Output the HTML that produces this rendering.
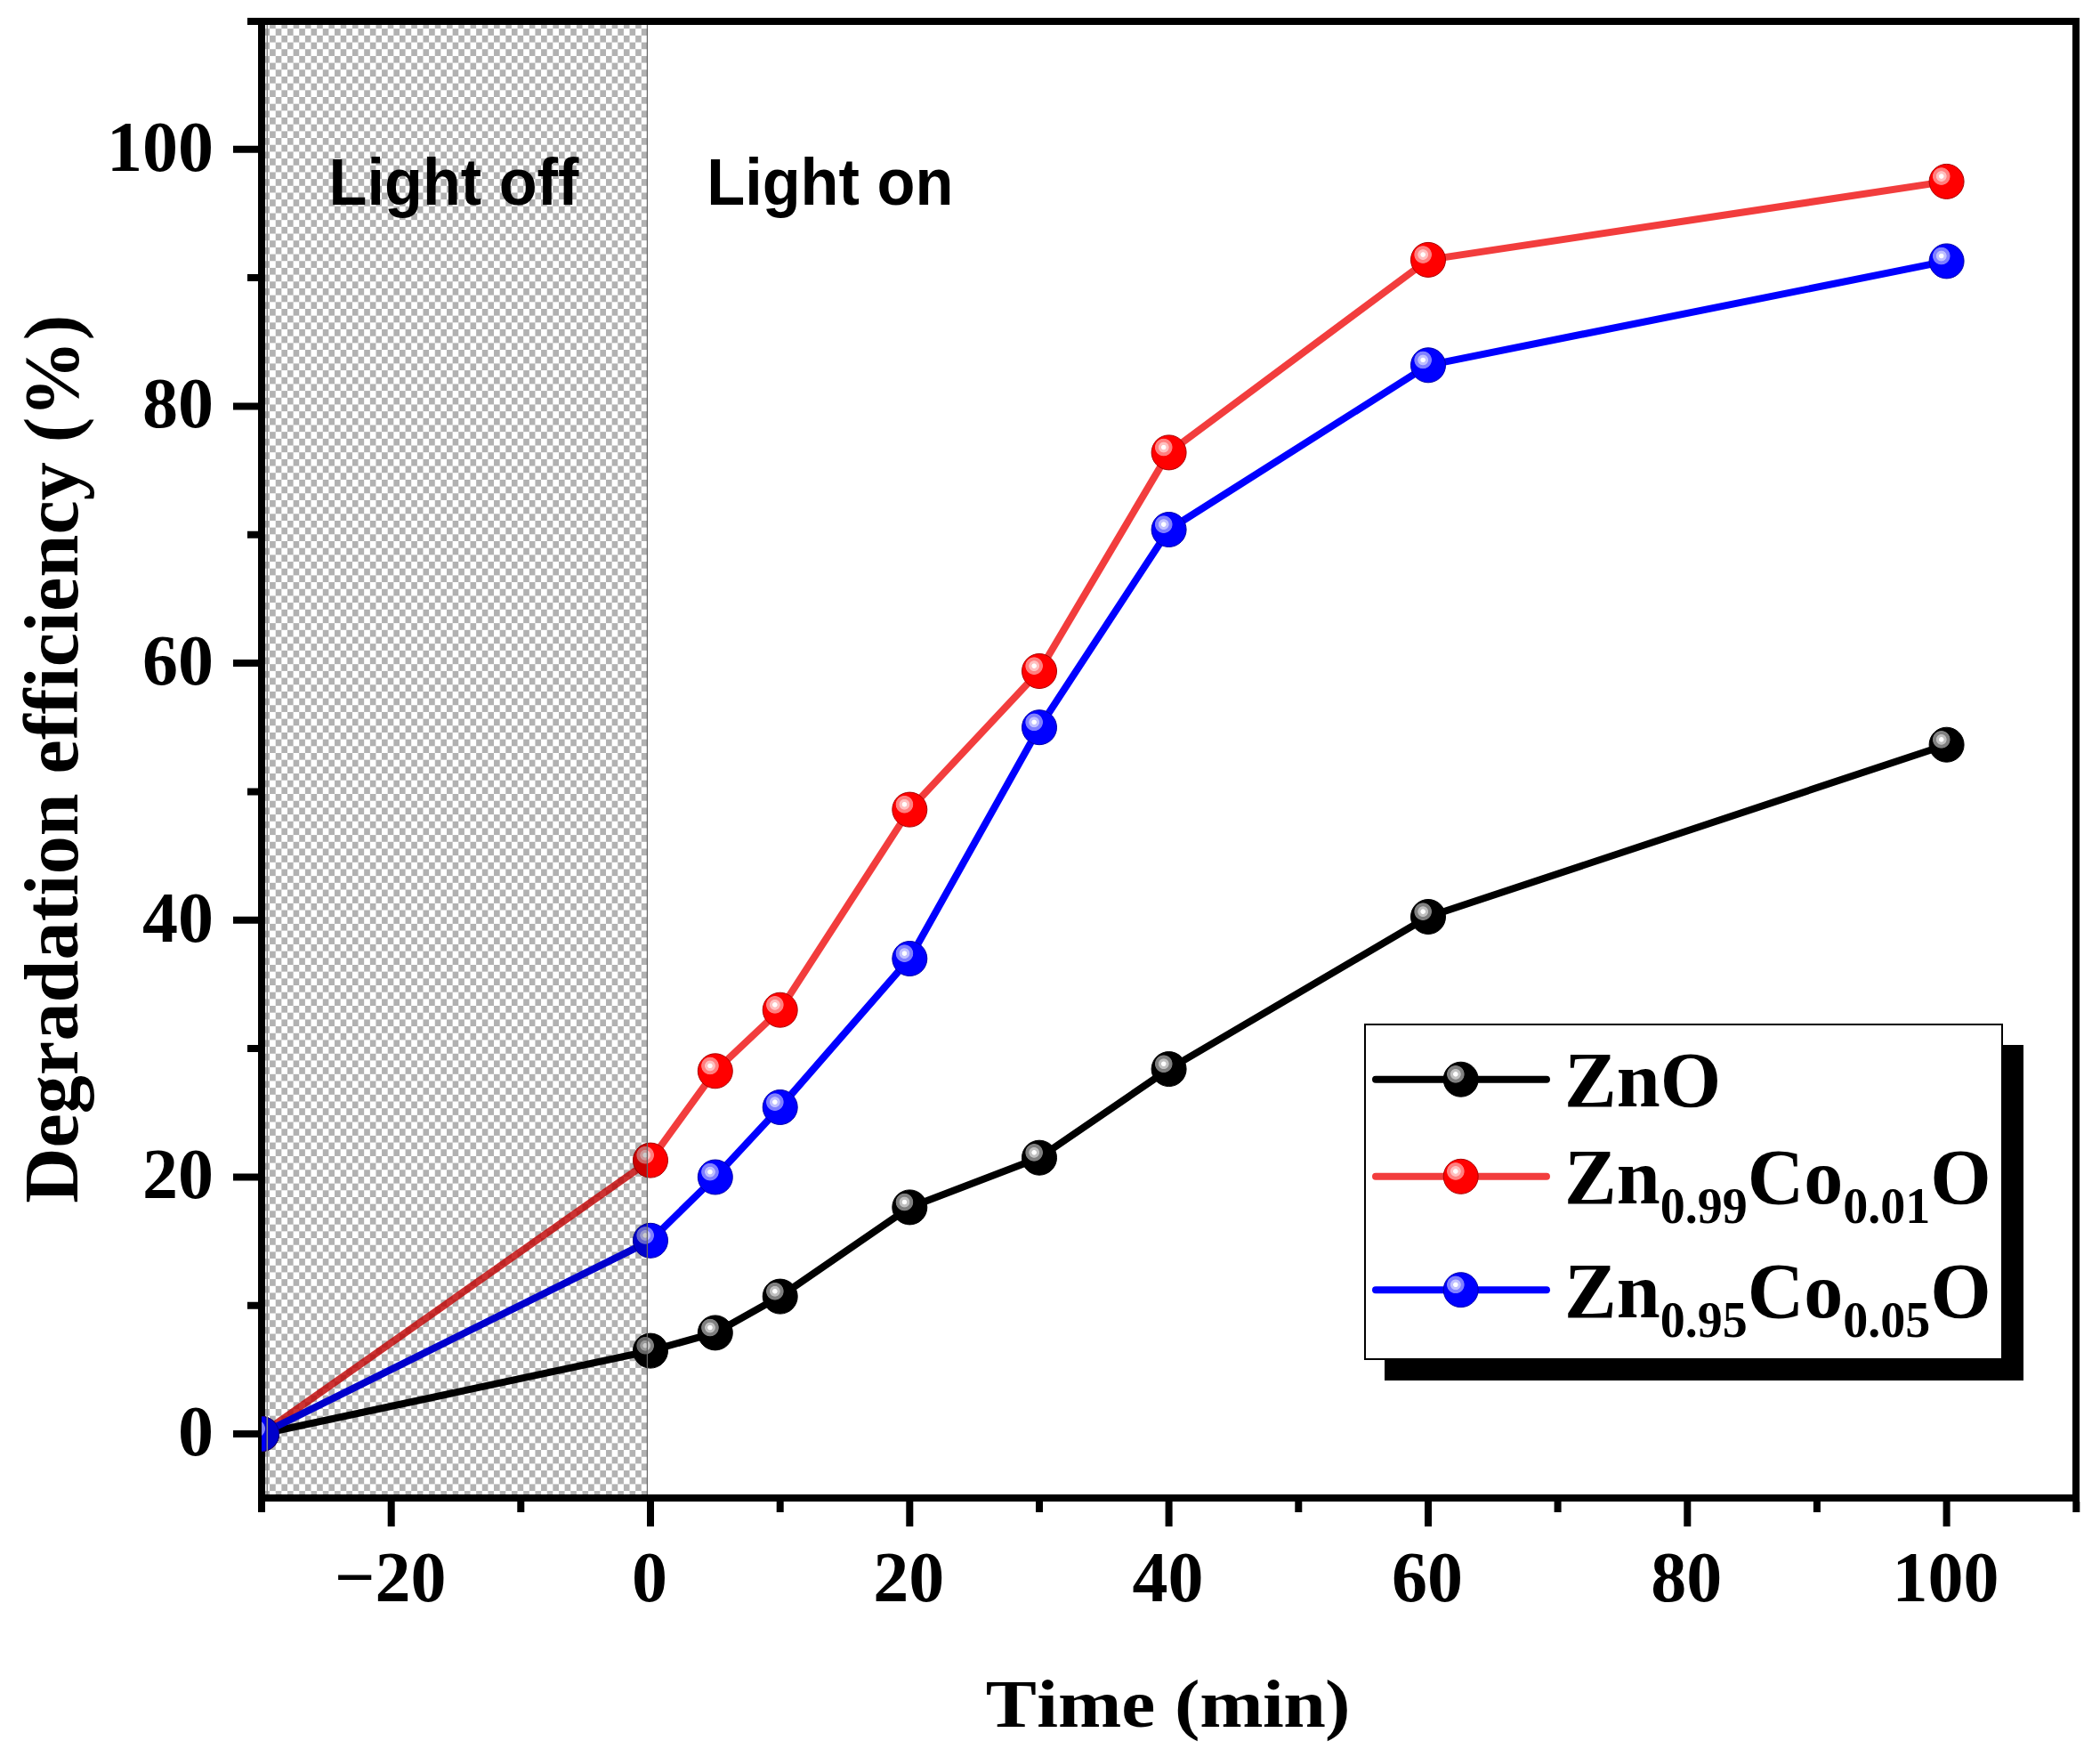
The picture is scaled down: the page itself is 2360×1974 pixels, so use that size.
<!DOCTYPE html>
<html><head><meta charset="utf-8"><title>Degradation efficiency</title>
<style>html,body{margin:0;padding:0;background:#fff;}body{width:2360px;height:1974px;overflow:hidden;}svg{display:block;}</style>
</head><body>
<svg width="2360" height="1974" viewBox="0 0 2360 1974">
<defs>
<pattern id="chk" patternUnits="userSpaceOnUse" x="303.1" y="39.9" width="13.26" height="15.354"><rect x="0" y="0" width="13.26" height="15.354" fill="#fff"/><rect x="0" y="0" width="6.63" height="7.677" fill="#b2b2b2"/><rect x="6.63" y="7.677" width="6.63" height="7.677" fill="#b2b2b2"/></pattern>
<clipPath id="plot"><rect x="294" y="24" width="2039" height="1659"/></clipPath>
<radialGradient id="gk" cx="0.35" cy="0.35" r="0.5" fx="0.35" fy="0.35"><stop offset="0" stop-color="#fff"/><stop offset="0.12" stop-color="#fff"/><stop offset="0.16" stop-color="#c0c0c0"/><stop offset="0.28" stop-color="#c0c0c0"/><stop offset="0.32" stop-color="#808080"/><stop offset="0.48" stop-color="#808080"/><stop offset="0.52" stop-color="#000"/><stop offset="1" stop-color="#000"/></radialGradient>
<radialGradient id="gr" cx="0.35" cy="0.35" r="0.5" fx="0.35" fy="0.35"><stop offset="0" stop-color="#fff"/><stop offset="0.12" stop-color="#fff"/><stop offset="0.16" stop-color="#ffc0c0"/><stop offset="0.28" stop-color="#ffc0c0"/><stop offset="0.32" stop-color="#ff8080"/><stop offset="0.48" stop-color="#ff8080"/><stop offset="0.52" stop-color="#ff0000"/><stop offset="1" stop-color="#ff0000"/></radialGradient>
<radialGradient id="gb" cx="0.35" cy="0.35" r="0.5" fx="0.35" fy="0.35"><stop offset="0" stop-color="#fff"/><stop offset="0.12" stop-color="#fff"/><stop offset="0.16" stop-color="#c0c0ff"/><stop offset="0.28" stop-color="#c0c0ff"/><stop offset="0.32" stop-color="#8080ff"/><stop offset="0.48" stop-color="#8080ff"/><stop offset="0.52" stop-color="#0000ff"/><stop offset="1" stop-color="#0000ff"/></radialGradient>
</defs>
<rect x="0" y="0" width="2360" height="1974" fill="#fff"/>
<rect x="298" y="28" width="429.5" height="1651" fill="url(#chk)"/>
<rect x="294" y="24" width="2039" height="1659" fill="none" stroke="#000" stroke-width="8"/>
<path d="M439.7,1687V1715 M731.0,1687V1715 M1022.3,1687V1715 M1313.6,1687V1715 M1605.0,1687V1715 M1896.3,1687V1715 M2187.6,1687V1715 M294.0,1687V1699 M585.3,1687V1699 M876.7,1687V1699 M1168.0,1687V1699 M1459.3,1687V1699 M1750.6,1687V1699 M2041.9,1687V1699 M2333.3,1687V1699 M262,1611.0H290 M262,1322.4H290 M262,1033.7H290 M262,745.1H290 M262,456.4H290 M262,167.8H290 M278,1466.7H290 M278,1178.0H290 M278,889.4H290 M278,600.8H290 M278,312.1H290 M278,24.0H290" stroke="#000" stroke-width="8" fill="none"/>
<g id="data" clip-path="url(#plot)">
<polyline points="294.0,1611.0 731.0,1517.6 803.8,1497.4 876.7,1456.6 1022.3,1356.4 1168.0,1300.7 1313.6,1201.1 1605.0,1030.0 2187.6,836.7" fill="none" stroke="#000" stroke-opacity="1" stroke-width="8" stroke-linejoin="round" stroke-linecap="round"/>
<circle cx="294.0" cy="1611.0" r="19.5" fill="url(#gk)" stroke="#000" stroke-width="1"/>
<circle cx="731.0" cy="1517.6" r="19.5" fill="url(#gk)" stroke="#000" stroke-width="1"/>
<circle cx="803.8" cy="1497.4" r="19.5" fill="url(#gk)" stroke="#000" stroke-width="1"/>
<circle cx="876.7" cy="1456.6" r="19.5" fill="url(#gk)" stroke="#000" stroke-width="1"/>
<circle cx="1022.3" cy="1356.4" r="19.5" fill="url(#gk)" stroke="#000" stroke-width="1"/>
<circle cx="1168.0" cy="1300.7" r="19.5" fill="url(#gk)" stroke="#000" stroke-width="1"/>
<circle cx="1313.6" cy="1201.1" r="19.5" fill="url(#gk)" stroke="#000" stroke-width="1"/>
<circle cx="1605.0" cy="1030.0" r="19.5" fill="url(#gk)" stroke="#000" stroke-width="1"/>
<circle cx="2187.6" cy="836.7" r="19.5" fill="url(#gk)" stroke="#000" stroke-width="1"/>
<polyline points="294.0,1611.0 731.0,1303.6 803.8,1203.3 876.7,1134.7 1022.3,909.6 1168.0,754.0 1313.6,508.4 1605.0,291.9 2187.6,203.9" fill="none" stroke="#ee0000" stroke-opacity="0.76" stroke-width="8" stroke-linejoin="round" stroke-linecap="round"/>
<circle cx="294.0" cy="1611.0" r="19.5" fill="url(#gr)" stroke="#a00" stroke-width="1"/>
<circle cx="731.0" cy="1303.6" r="19.5" fill="url(#gr)" stroke="#a00" stroke-width="1"/>
<circle cx="803.8" cy="1203.3" r="19.5" fill="url(#gr)" stroke="#a00" stroke-width="1"/>
<circle cx="876.7" cy="1134.7" r="19.5" fill="url(#gr)" stroke="#a00" stroke-width="1"/>
<circle cx="1022.3" cy="909.6" r="19.5" fill="url(#gr)" stroke="#a00" stroke-width="1"/>
<circle cx="1168.0" cy="754.0" r="19.5" fill="url(#gr)" stroke="#a00" stroke-width="1"/>
<circle cx="1313.6" cy="508.4" r="19.5" fill="url(#gr)" stroke="#a00" stroke-width="1"/>
<circle cx="1605.0" cy="291.9" r="19.5" fill="url(#gr)" stroke="#a00" stroke-width="1"/>
<circle cx="2187.6" cy="203.9" r="19.5" fill="url(#gr)" stroke="#a00" stroke-width="1"/>
<polyline points="294.0,1611.0 731.0,1393.8 803.8,1322.5 876.7,1244.0 1022.3,1077.0 1168.0,817.2 1313.6,595.0 1605.0,410.3 2187.6,293.4" fill="none" stroke="#0000ff" stroke-opacity="1" stroke-width="8" stroke-linejoin="round" stroke-linecap="round"/>
<circle cx="294.0" cy="1611.0" r="19.5" fill="url(#gb)" stroke="#00a" stroke-width="1"/>
<circle cx="731.0" cy="1393.8" r="19.5" fill="url(#gb)" stroke="#00a" stroke-width="1"/>
<circle cx="803.8" cy="1322.5" r="19.5" fill="url(#gb)" stroke="#00a" stroke-width="1"/>
<circle cx="876.7" cy="1244.0" r="19.5" fill="url(#gb)" stroke="#00a" stroke-width="1"/>
<circle cx="1022.3" cy="1077.0" r="19.5" fill="url(#gb)" stroke="#00a" stroke-width="1"/>
<circle cx="1168.0" cy="817.2" r="19.5" fill="url(#gb)" stroke="#00a" stroke-width="1"/>
<circle cx="1313.6" cy="595.0" r="19.5" fill="url(#gb)" stroke="#00a" stroke-width="1"/>
<circle cx="1605.0" cy="410.3" r="19.5" fill="url(#gb)" stroke="#00a" stroke-width="1"/>
<circle cx="2187.6" cy="293.4" r="19.5" fill="url(#gb)" stroke="#00a" stroke-width="1"/>
</g>
<filter id="wht" x="0" y="0" width="2360" height="1974" filterUnits="userSpaceOnUse"><feColorMatrix type="matrix" values="0 0 0 0 1 0 0 0 0 1 0 0 0 0 1 0 0 0 1 0"/></filter>
<mask id="dm" maskUnits="userSpaceOnUse" x="0" y="0" width="2360" height="1974"><use href="#data" filter="url(#wht)"/></mask>
<rect x="298" y="28" width="429.5" height="1651" fill="#000" fill-opacity="0.2" mask="url(#dm)"/>
<line x1="300.3" y1="28" x2="300.3" y2="1679" stroke="#888" stroke-width="1.5"/>
<line x1="727.4" y1="28" x2="727.4" y2="1679" stroke="#666" stroke-width="1.2"/>
<text x="240" y="1635.0" font-family="Liberation Serif, Times New Roman, serif" font-weight="bold" font-size="80" text-anchor="end">0</text>
<text x="240" y="1346.4" font-family="Liberation Serif, Times New Roman, serif" font-weight="bold" font-size="80" text-anchor="end">20</text>
<text x="240" y="1057.7" font-family="Liberation Serif, Times New Roman, serif" font-weight="bold" font-size="80" text-anchor="end">40</text>
<text x="240" y="769.1" font-family="Liberation Serif, Times New Roman, serif" font-weight="bold" font-size="80" text-anchor="end">60</text>
<text x="240" y="480.4" font-family="Liberation Serif, Times New Roman, serif" font-weight="bold" font-size="80" text-anchor="end">80</text>
<text x="240" y="191.8" font-family="Liberation Serif, Times New Roman, serif" font-weight="bold" font-size="80" text-anchor="end">100</text>
<text x="438.7" y="1799" font-family="Liberation Serif, Times New Roman, serif" font-weight="bold" font-size="80" text-anchor="middle">−20</text>
<text x="730.0" y="1799" font-family="Liberation Serif, Times New Roman, serif" font-weight="bold" font-size="80" text-anchor="middle">0</text>
<text x="1021.3" y="1799" font-family="Liberation Serif, Times New Roman, serif" font-weight="bold" font-size="80" text-anchor="middle">20</text>
<text x="1312.6" y="1799" font-family="Liberation Serif, Times New Roman, serif" font-weight="bold" font-size="80" text-anchor="middle">40</text>
<text x="1604.0" y="1799" font-family="Liberation Serif, Times New Roman, serif" font-weight="bold" font-size="80" text-anchor="middle">60</text>
<text x="1895.3" y="1799" font-family="Liberation Serif, Times New Roman, serif" font-weight="bold" font-size="80" text-anchor="middle">80</text>
<text x="2186.6" y="1799" font-family="Liberation Serif, Times New Roman, serif" font-weight="bold" font-size="80" text-anchor="middle">100</text>
<text transform="translate(87,1351.8) rotate(-90)" font-family="Liberation Serif, Times New Roman, serif" font-weight="bold" font-size="86" letter-spacing="0.185">Degradation efficiency (%)</text>
<text transform="translate(0,1940) scale(1.12,1)" x="989.1 1040.4 1061.6 1125.2 1165.2 1178.6 1203.9 1267.0 1287.8 1329.5" y="0" font-family="Liberation Serif, Times New Roman, serif" font-weight="bold" font-size="76.5">Time (min)</text>
<text transform="translate(369.60,230) scale(0.953,1)" font-family="Liberation Sans, Arial, sans-serif" font-weight="bold" font-size="73.7">Light off</text>
<text transform="translate(794.20,230) scale(0.954,1)" font-family="Liberation Sans, Arial, sans-serif" font-weight="bold" font-size="73.7">Light on</text>
<rect x="1556" y="1174" width="718" height="377" fill="#000"/>
<rect x="1534" y="1151" width="716" height="376" fill="#fff" stroke="#000" stroke-width="2"/>
<line x1="1546" y1="1212.7" x2="1738" y2="1212.7" stroke="#000" stroke-opacity="1" stroke-width="8" stroke-linecap="round"/>
<circle cx="1641.7" cy="1212.7" r="19.5" fill="url(#gk)" stroke="#000" stroke-width="1"/>
<line x1="1546" y1="1321.8" x2="1738" y2="1321.8" stroke="#ee0000" stroke-opacity="0.76" stroke-width="8" stroke-linecap="round"/>
<circle cx="1641.7" cy="1321.8" r="19.5" fill="url(#gr)" stroke="#a00" stroke-width="1"/>
<line x1="1546" y1="1449.2" x2="1738" y2="1449.2" stroke="#0000ff" stroke-opacity="1" stroke-width="8" stroke-linecap="round"/>
<circle cx="1641.7" cy="1449.2" r="19.5" fill="url(#gb)" stroke="#00a" stroke-width="1"/>
<text x="1758" y="1243" font-family="Liberation Serif, Times New Roman, serif" font-weight="bold" font-size="88">ZnO</text>
<text x="1758" y="1352" font-family="Liberation Serif, Times New Roman, serif" font-weight="bold" font-size="88">Zn<tspan font-size="56" dy="22">0.99</tspan><tspan dy="-22">Co</tspan><tspan font-size="56" dy="22">0.01</tspan><tspan dy="-22">O</tspan></text>
<text x="1758" y="1479.7" font-family="Liberation Serif, Times New Roman, serif" font-weight="bold" font-size="88">Zn<tspan font-size="56" dy="22">0.95</tspan><tspan dy="-22">Co</tspan><tspan font-size="56" dy="22">0.05</tspan><tspan dy="-22">O</tspan></text>
</svg>
</body></html>
